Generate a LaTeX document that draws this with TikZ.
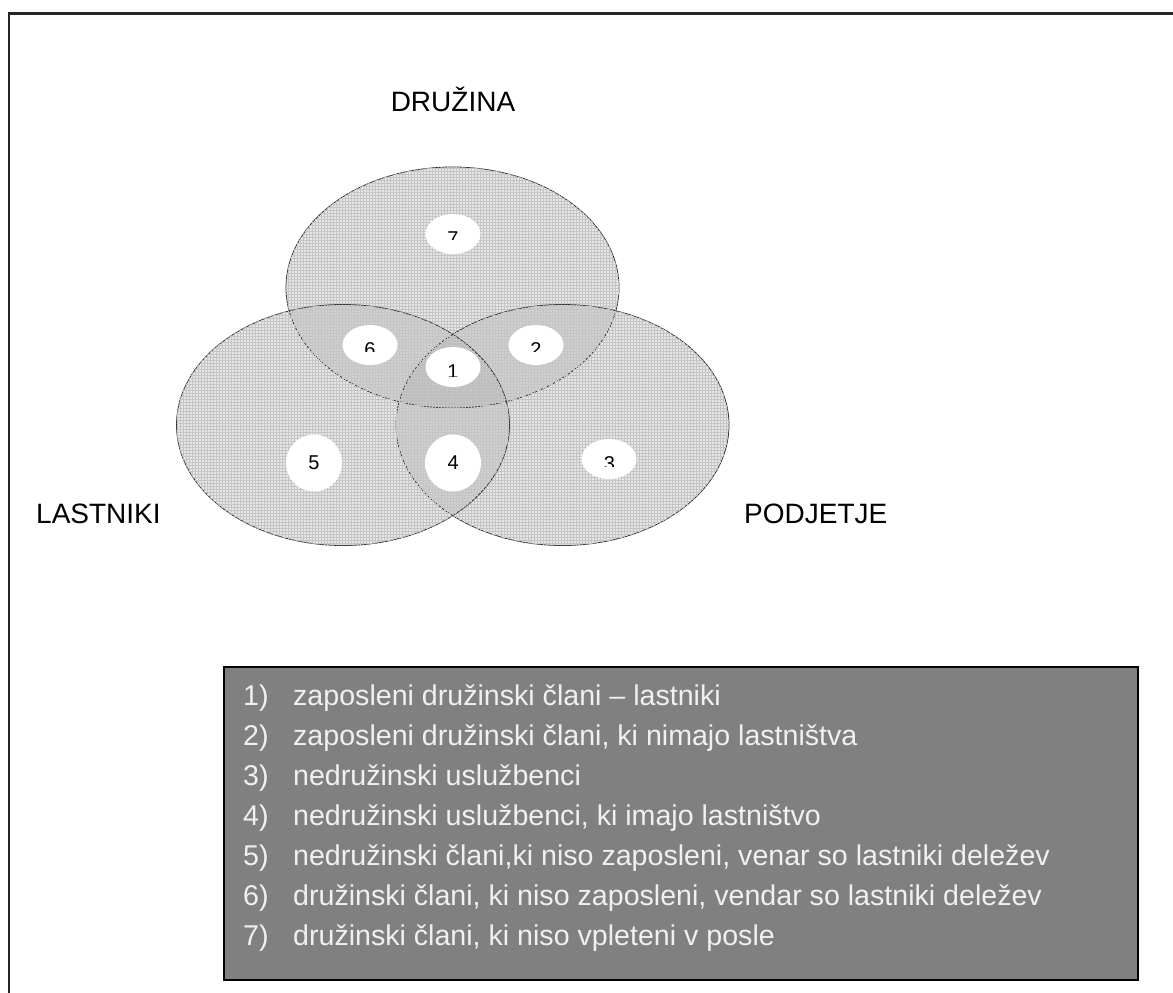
\documentclass[tikz,border=0pt]{standalone}
\usepackage{fontspec}
\setmainfont{Liberation Sans}
\usetikzlibrary{shapes.geometric, patterns, positioning}
\definecolor{mgray}{HTML}{808080}
\definecolor{mline}{HTML}{2E2E2E}
\definecolor{mgrid}{HTML}{C4C4C4}
\tikzstyle{setbody} = [ellipse, minimum width=333, minimum height=241, inner sep=0, draw=mline, line width=0.8, fill=black!70, fill opacity=0.14, postaction={pattern=grid, pattern color=mgrid}]
\tikzstyle{hole} = [ellipse, minimum width=55, minimum height=40, inner sep=0, fill=white]
\tikzstyle{digit} = [inner sep=0, anchor=base, font=\fontsize{20}{24}\selectfont]
\tikzstyle{heading} = [inner sep=0, font=\fontsize{28}{34}\selectfont]
\tikzstyle{keybox} = [rectangle, draw=black, line width=2, fill=mgray, minimum width=914, minimum height=313, inner sep=0]
\tikzstyle{keyline} = [inner sep=0, text=white!94!black, anchor=base west, font=\fontsize{28.6}{34}\selectfont]
\newcommand{\keynum}[1]{\makebox[50pt][l]{#1}}

\begin{document}
\begin{tikzpicture}[x=1pt, y=-1pt]
  \useasboundingbox (0,0) rectangle (1173,993);
  % frame, only top and left side
  \draw[line width=2.5, black!85] (9,993) -- (9,13.5) -- (1173,13.5);

  % the three sets
  \node (druzina) [setbody] at (452.5,287.5) {};
  \node (podjetje) [setbody] at (562.5,425) {};
  \node (lastniki) [setbody] at (343,425) {};

  \node (tdruzina) [heading, anchor=base] at (453,111) {DRUŽINA};
  \node (tlastniki) [heading, anchor=base west] at (36,523) {LASTNIKI};
  \node (tpodjetje) [heading, anchor=base west] at (744,523) {PODJETJE};

  % white spots
  \node (z7) [hole] at (453,234) {};
  \node (z6) [hole] at (370,345) {};
  \node (z2) [hole] at (536,345) {};
  \node (z1) [hole] at (453,367) {};
  \node (z3) [hole] at (609,459) {};
  \node (z5) [hole, minimum width=56, minimum height=57] at (314,463) {};
  \node (z4) [hole, minimum width=56, minimum height=57] at (453,463) {};

  % numbers, most of them cut off below
  \begin{scope}
    \clip (430,220) rectangle (476,239.3);
    \node (n7) [digit] at (453,245.3) {7};
  \end{scope}
  \begin{scope}
    \clip (347,330) rectangle (393,351.7);
    \node (n6) [digit] at (370,356) {6};
  \end{scope}
  \begin{scope}
    \clip (513,330) rectangle (559,351.7);
    \node (n2) [digit] at (536,356) {2};
  \end{scope}
  \begin{scope}
    \clip (430,352) rectangle (476,376.7);
    \node (n1) [digit] at (453,378.6) {1};
  \end{scope}
  \begin{scope}
    \clip (586,444) rectangle (632,466);
    \node (n3) [digit] at (609.5,470.3) {3};
  \end{scope}
  \node (n5) [digit] at (314,469.3) {5};
  \node (n4) [digit] at (453.3,469.3) {4};

  % legend
  \node (key) [keybox] at (681,823.5) {};
  \node (k1) [keyline] at (243,705) {\keynum{1)}zaposleni družinski člani – lastniki};
  \node (k2) [keyline] at (243,745) {\keynum{2)}zaposleni družinski člani, ki nimajo lastništva};
  \node (k3) [keyline] at (243,785) {\keynum{3)}nedružinski uslužbenci};
  \node (k4) [keyline] at (243,825) {\keynum{4)}nedružinski uslužbenci, ki imajo lastništvo};
  \node (k5) [keyline] at (243,865) {\keynum{5)}nedružinski člani,ki niso zaposleni, venar so lastniki deležev};
  \node (k6) [keyline] at (243,905) {\keynum{6)}družinski člani, ki niso zaposleni, vendar so lastniki deležev};
  \node (k7) [keyline] at (243,945) {\keynum{7)}družinski člani, ki niso vpleteni v posle};
\end{tikzpicture}
\end{document}
